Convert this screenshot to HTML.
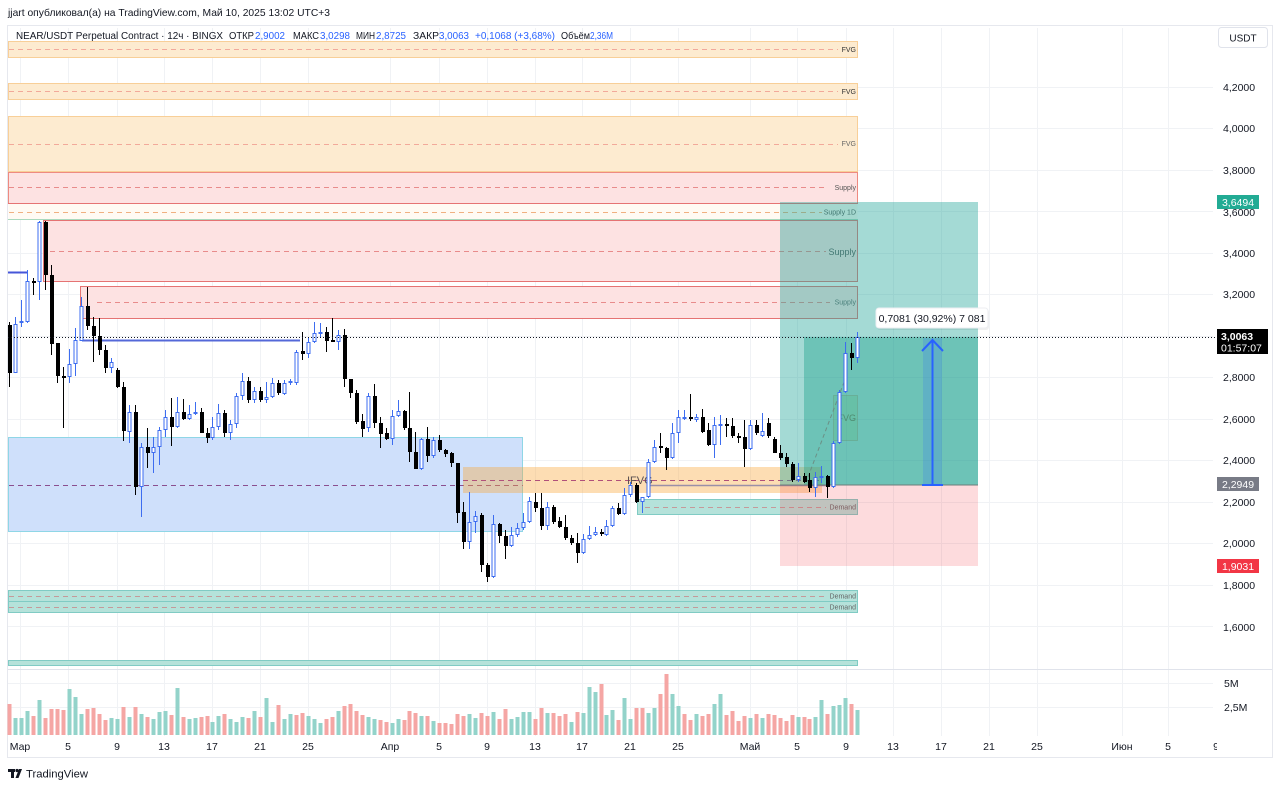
<!DOCTYPE html>
<html><head><meta charset="utf-8"><style>
html,body{margin:0;padding:0;background:#fff;}
svg{display:block;}
text{font-family:"Liberation Sans","DejaVu Sans",sans-serif;}
</style></head><body>
<svg width="1280" height="788" viewBox="0 0 1280 788" xmlns="http://www.w3.org/2000/svg">
<rect width="1280" height="788" fill="#fff"/>
<!-- frame -->
<rect x="7.5" y="25.5" width="1265" height="732" fill="none" stroke="#e6e8ee"/>
<!-- grid -->
<g stroke="#f0f2f5" stroke-width="1">
<path d="M8 87.5H1213M8 128.5H1213M8 170.5H1213M8 211.5H1213M8 253.5H1213M8 294.5H1213M8 336.5H1213M8 377.5H1213M8 419.5H1213M8 460.5H1213M8 502.5H1213M8 543.5H1213M8 585.5H1213M8 626.5H1213M8 683.5H1213M8 707.5H1213"/>
<path d="M20.5 28V736M68.5 28V736M117.5 28V736M164.5 28V736M212.5 28V736M260.5 28V736M308.5 28V736M390.5 28V736M439.5 28V736M487.5 28V736M535.5 28V736M582.5 28V736M630.5 28V736M678.5 28V736M750.5 28V736M797.5 28V736M846.5 28V736M893.5 28V736M941.5 28V736M989.5 28V736M1037.5 28V736M1122.5 28V736M1168.5 28V736"/>
</g>
<line x1="8" y1="669.5" x2="1272" y2="669.5" stroke="#e0e3eb"/>

<!-- FVG zones -->
<g stroke="#f8cf98" stroke-width="1">
<rect x="8.5" y="41.5" width="849" height="16" fill="#fdebd0"/>
<rect x="8.5" y="83.5" width="849" height="16" fill="#fdebd0"/>
<rect x="8.5" y="116.5" width="849" height="55" fill="#fdebd0"/>
</g>
<!-- Supply zones -->
<rect x="8.5" y="172.5" width="849" height="31" fill="#fde2e2" stroke="#ee8a80"/>
<rect x="8.5" y="203.5" width="849" height="16" fill="#fffaf3" stroke="none"/>
<line x1="8" y1="203.5" x2="858" y2="203.5" stroke="#e57373"/>
<line x1="8" y1="219.5" x2="858" y2="219.5" stroke="#a9d9bd"/>
<rect x="43.5" y="220.5" width="814" height="61" fill="#fde2e2" stroke="#e57373"/>
<rect x="80.5" y="286.5" width="777" height="32" fill="#fde2e2" stroke="#e57373"/>
<g stroke-dasharray="5 4" stroke-width="1" fill="none">
<path d="M9 49.5H838M9 91.5H838M9 144.5H838" stroke="#f2a99a"/>
<path d="M9 187.5H828" stroke="#e88b8b"/>
<path d="M9 212.5H822" stroke="#f0b080"/>
<path d="M50 251.5H826M97 302.5H830" stroke="#e88b8b"/>
</g>

<!-- Blue zone -->
<rect x="8.5" y="437.5" width="514" height="94" fill="#cfe0fb" stroke="#8fd6e6"/>
<path d="M9 485.5H523" stroke="#8b4f8f" stroke-dasharray="5 4"/>
<!-- IFVG orange -->
<rect x="463" y="467" width="359" height="26" fill="rgba(251,165,55,0.38)"/>
<path d="M463 480.5H820" stroke="#b0507a" stroke-dasharray="5 4"/>
<path d="M648 485.5H830" stroke="#9b8fa8" stroke-width="1.5"/>
<!-- Demand zones -->
<g fill="#b5e2da" stroke="#80cbc4">
<rect x="637.5" y="499.5" width="220" height="15"/>
<rect x="8.5" y="590.5" width="849" height="11"/>
<rect x="8.5" y="601.5" width="849" height="11"/>
<rect x="8.5" y="660.5" width="849" height="5"/>
</g>
<g stroke="#c49a9a" stroke-dasharray="5 4">
<path d="M645 507.5H826M9 596.5H826M9 607.5H826"/>
</g>

<!-- blue horizontal lines -->
<path d="M8 272.5H27" stroke="#4656d8" stroke-width="2"/>
<path d="M82 340.5H300" stroke="#5468d8" stroke-width="2"/>

<!-- zone labels -->
<g font-size="7" fill="#333" text-anchor="end">
<text x="856" y="52">FVG</text>
<text x="856" y="94">FVG</text>
<text x="856" y="146" fill="#666">FVG</text>
<text x="856" y="190" fill="#555">Supply</text>
<text x="856" y="214.5" fill="#555">Supply 1D</text>
<text x="856" y="255" font-size="9" fill="#555">Supply</text>
<text x="856" y="304.5" fill="#666">Supply</text>
<text x="856" y="509.5" fill="#666">Demand</text>
<text x="856" y="598.5" fill="#666">Demand</text>
<text x="856" y="609.5" fill="#666">Demand</text>
</g>

<!-- Long position -->
<rect x="780" y="202" width="198" height="283" fill="rgba(38,166,154,0.42)"/>
<rect x="804" y="337" width="174" height="148" fill="rgba(8,153,129,0.35)"/>
<rect x="780" y="485" width="198" height="81" fill="rgba(242,54,69,0.18)"/>
<line x1="780" y1="485" x2="978" y2="485" stroke="#6c7e7a"/>
<rect x="833.5" y="395.5" width="24" height="45" fill="rgba(76,175,80,0.15)" stroke="rgba(100,140,110,0.35)"/>
<text x="856" y="421" font-size="9" fill="#4f8a70" text-anchor="end">FVG</text>
<path d="M808 477L846 377" stroke="#6b8f85" stroke-dasharray="4 3" fill="none"/>
<rect x="923" y="338" width="19" height="147" fill="rgba(41,98,255,0.18)"/>
<g stroke="#2962ff" stroke-width="2" fill="none">
<path d="M932.5 484V340"/>
<path d="M922 351L932.5 340L943 351"/>
<path d="M922 485H943"/>
</g>
<text x="627" y="484" font-size="11" fill="#5a5050">IFVG</text>

<!-- candles -->
<g shape-rendering="crispEdges">
<path stroke="#000" stroke-width="1" fill="none" d="M9.5 322V387M33.5 278V295M45.5 221V290M51.5 265V355M57.5 343V383M63.5 367V428M87.5 287V330M93.5 317V362M99.5 318V355M105.5 345V373M117.5 368V388M123.5 382V441M135.5 405V495M147.5 428V468M171.5 398V446M183.5 399V420M201.5 408V433M207.5 428V443M224.5 410V437M248.5 377V403M260.5 387V402M278.5 380V395M302.5 332V360M326.5 327V352M332.5 318V342M344.5 329V387M350.5 379V398M356.5 390V424M362.5 414V437M374.5 384V428M380.5 417V448M386.5 428V440M404.5 410V430M409.5 392V462M415.5 432V469M427.5 427V462M439.5 435V452M445.5 449V457M451.5 452V467M457.5 463V523M463.5 502V549M481.5 513V572M487.5 563V582M499.5 523V543M505.5 530V559M535.5 493V512M541.5 493V530M553.5 505V524M559.5 517V528M565.5 515V540M571.5 535V545M577.5 533V563M601.5 529V536M618.5 503V515M636.5 483V503M660.5 433V453M666.5 447V470M690.5 394V421M702.5 409V433M708.5 423V446M726.5 418V437M732.5 418V438M738.5 433V443M744.5 420V467M756.5 420V435M768.5 418V438M774.5 437V453M780.5 445V460M786.5 453V467M792.5 462V482M804.5 473V483M809.5 473V492M827.5 475V498M851.5 343V370"/>
<path stroke="#3d6df0" stroke-width="1" fill="none" d="M15.5 317V373M21.5 300V327M27.5 270V323M39.5 221V300M69.5 349V383M75.5 328V376M81.5 297V341M111.5 358V373M129.5 405V443M141.5 443V517M153.5 437V473M159.5 427V465M165.5 410V437M177.5 397V428M189.5 405V420M195.5 402V415M212.5 417V440M218.5 404V430M230.5 420V440M236.5 393V428M242.5 373V400M254.5 387V403M266.5 382V403M272.5 378V398M284.5 380V395M290.5 379V385M296.5 350V385M308.5 338V358M314.5 322V343M320.5 323V337M338.5 330V350M368.5 393V432M392.5 410V445M398.5 400V417M421.5 438V470M433.5 437V458M469.5 492V549M475.5 511V533M493.5 515V578M511.5 527V547M517.5 523V537M523.5 513V530M529.5 497V523M547.5 502V530M583.5 534V554M589.5 526V540M595.5 527V536M606.5 520V536M612.5 506V527M624.5 488V515M630.5 482V497M642.5 497V513M648.5 459V498M654.5 440V463M672.5 423V459M678.5 410V443M684.5 410V420M696.5 414V422M714.5 417V458M720.5 415V445M750.5 420V450M762.5 413V437M798.5 463V482M815.5 472V497M821.5 466V483M833.5 441V488M839.5 390V444M845.5 342V393M857.5 332V363"/>
<g fill="#000">
<rect x="8" y="325" width="4" height="48"/><rect x="32" y="281" width="4" height="2"/><rect x="44" y="222" width="4" height="53"/><rect x="50" y="275" width="4" height="69"/><rect x="56" y="343" width="4" height="33"/><rect x="62" y="376" width="4" height="2"/><rect x="86" y="306" width="4" height="20"/><rect x="92" y="326" width="4" height="10"/><rect x="98" y="336" width="4" height="14"/><rect x="104" y="350" width="4" height="18"/><rect x="116" y="370" width="4" height="17"/><rect x="122" y="387" width="4" height="44"/><rect x="134" y="412" width="4" height="75"/><rect x="146" y="447" width="4" height="6"/><rect x="170" y="417" width="4" height="10"/><rect x="182" y="412" width="4" height="7"/><rect x="200" y="412" width="4" height="21"/><rect x="206" y="433" width="4" height="5"/><rect x="223" y="413" width="4" height="20"/><rect x="247" y="381" width="4" height="19"/><rect x="259" y="391" width="4" height="9"/><rect x="277" y="383" width="4" height="10"/><rect x="301" y="351" width="4" height="3"/><rect x="325" y="332" width="4" height="9"/><rect x="331" y="340" width="4" height="2"/><rect x="343" y="335" width="4" height="44"/><rect x="349" y="379" width="4" height="14"/><rect x="355" y="393" width="4" height="29"/><rect x="361" y="421" width="4" height="8"/><rect x="373" y="396" width="4" height="27"/><rect x="379" y="423" width="4" height="11"/><rect x="385" y="433" width="4" height="6"/><rect x="403" y="411" width="4" height="17"/><rect x="408" y="428" width="4" height="24"/><rect x="414" y="452" width="4" height="17"/><rect x="426" y="439" width="4" height="17"/><rect x="438" y="440" width="4" height="10"/><rect x="444" y="450" width="4" height="4"/><rect x="450" y="453" width="4" height="10"/><rect x="456" y="463" width="4" height="50"/><rect x="462" y="512" width="4" height="30"/><rect x="480" y="515" width="4" height="50"/><rect x="486" y="565" width="4" height="12"/><rect x="498" y="524" width="4" height="12"/><rect x="504" y="536" width="4" height="10"/><rect x="534" y="502" width="4" height="6"/><rect x="540" y="508" width="4" height="18"/><rect x="552" y="507" width="4" height="15"/><rect x="558" y="521" width="4" height="6"/><rect x="564" y="527" width="4" height="11"/><rect x="570" y="538" width="4" height="5"/><rect x="576" y="543" width="4" height="10"/><rect x="600" y="532" width="4" height="2"/><rect x="617" y="508" width="4" height="6"/><rect x="635" y="485" width="4" height="17"/><rect x="659" y="446" width="4" height="2"/><rect x="665" y="448" width="4" height="10"/><rect x="689" y="417" width="4" height="2"/><rect x="701" y="417" width="4" height="15"/><rect x="707" y="430" width="4" height="15"/><rect x="725" y="424" width="4" height="2"/><rect x="731" y="426" width="4" height="10"/><rect x="737" y="436" width="4" height="2"/><rect x="743" y="437" width="4" height="12"/><rect x="755" y="425" width="4" height="8"/><rect x="767" y="423" width="4" height="13"/><rect x="773" y="439" width="4" height="14"/><rect x="779" y="453" width="4" height="5"/><rect x="785" y="457" width="4" height="7"/><rect x="791" y="464" width="4" height="16"/><rect x="803" y="476" width="4" height="6"/><rect x="808" y="480" width="4" height="8"/><rect x="826" y="476" width="4" height="11"/><rect x="850" y="353" width="4" height="5"/>
</g>
<g fill="#fff" stroke="#3d6df0" stroke-width="1">
<rect x="14" y="324.5" width="3" height="48"/><rect x="20" y="321.5" width="3" height="1"/><rect x="26" y="281.5" width="3" height="40"/><rect x="38" y="222.5" width="3" height="59"/><rect x="68" y="364.5" width="3" height="12"/><rect x="74" y="340.5" width="3" height="23"/><rect x="80" y="306.5" width="3" height="34"/><rect x="110" y="362.5" width="3" height="5"/><rect x="128" y="412.5" width="3" height="19"/><rect x="140" y="447.5" width="3" height="39"/><rect x="152" y="447.5" width="3" height="5"/><rect x="158" y="430.5" width="3" height="16"/><rect x="164" y="417.5" width="3" height="12"/><rect x="176" y="412.5" width="3" height="14"/><rect x="188" y="414.5" width="3" height="4"/><rect x="194" y="412.5" width="3" height="1"/><rect x="211" y="427.5" width="3" height="10"/><rect x="217" y="413.5" width="3" height="13"/><rect x="229" y="424.5" width="3" height="8"/><rect x="235" y="396.5" width="3" height="27"/><rect x="241" y="381.5" width="3" height="14"/><rect x="253" y="391.5" width="3" height="8"/><rect x="265" y="397.5" width="3" height="2"/><rect x="271" y="383.5" width="3" height="13"/><rect x="283" y="383.5" width="3" height="10"/><rect x="289" y="381.5" width="3" height="1"/><rect x="295" y="352.5" width="3" height="30"/><rect x="307" y="342.5" width="3" height="11"/><rect x="313" y="333.5" width="3" height="8"/><rect x="319" y="332.5" width="3" height="1"/><rect x="337" y="335.5" width="3" height="6"/><rect x="367" y="396.5" width="3" height="31"/><rect x="391" y="416.5" width="3" height="22"/><rect x="397" y="411.5" width="3" height="4"/><rect x="420" y="439.5" width="3" height="29"/><rect x="432" y="440.5" width="3" height="15"/><rect x="468" y="522.5" width="3" height="19"/><rect x="474" y="516.5" width="3" height="5"/><rect x="492" y="524.5" width="3" height="52"/><rect x="510" y="535.5" width="3" height="10"/><rect x="516" y="528.5" width="3" height="6"/><rect x="522" y="522.5" width="3" height="5"/><rect x="528" y="501.5" width="3" height="20"/><rect x="546" y="507.5" width="3" height="18"/><rect x="582" y="539.5" width="3" height="13"/><rect x="588" y="535.5" width="3" height="3"/><rect x="594" y="532.5" width="3" height="2"/><rect x="605" y="526.5" width="3" height="8"/><rect x="611" y="508.5" width="3" height="17"/><rect x="623" y="495.5" width="3" height="18"/><rect x="629" y="485.5" width="3" height="9"/><rect x="641" y="497.5" width="3" height="4"/><rect x="647" y="462.5" width="3" height="34"/><rect x="653" y="447.5" width="3" height="14"/><rect x="671" y="433.5" width="3" height="24"/><rect x="677" y="417.5" width="3" height="15"/><rect x="683" y="417.5" width="3" height="1"/><rect x="695" y="417.5" width="3" height="2"/><rect x="713" y="425.5" width="3" height="19"/><rect x="719" y="424.5" width="3" height="1"/><rect x="749" y="425.5" width="3" height="23"/><rect x="761" y="431.5" width="3" height="4"/><rect x="797" y="476.5" width="3" height="3"/><rect x="814" y="477.5" width="3" height="10"/><rect x="820" y="476.5" width="3" height="1"/><rect x="832" y="443.5" width="3" height="43"/><rect x="838" y="392.5" width="3" height="50"/><rect x="844" y="353.5" width="3" height="38"/><rect x="856" y="337.5" width="3" height="20"/>
</g>
</g>

<!-- current price dotted line -->
<path d="M8 337.5H1215" stroke="#131722" stroke-dasharray="1 2" stroke-width="1"/>

<!-- position label -->
<rect x="877" y="309" width="112" height="21" rx="3" fill="#000" opacity="0.06"/>
<rect x="876" y="308" width="112" height="20" rx="3" fill="#fff" stroke="#eceef2"/>
<text x="932" y="322" font-size="10.5" fill="#131722" text-anchor="middle">0,7081 (30,92%) 7 081</text>

<!-- volume -->
<g fill="#93d3ca" shape-rendering="crispEdges">
<rect x="13.5" y="718" width="4" height="17"/><rect x="19.5" y="718" width="4" height="17"/><rect x="25.5" y="711" width="4" height="24"/><rect x="37.5" y="700" width="4" height="35"/><rect x="67.5" y="689" width="4" height="46"/><rect x="73.5" y="697" width="4" height="38"/><rect x="79.5" y="714" width="4" height="21"/><rect x="109.5" y="718" width="4" height="17"/><rect x="115.5" y="719" width="4" height="16"/><rect x="127.5" y="717" width="4" height="18"/><rect x="139.5" y="714" width="4" height="21"/><rect x="151.5" y="719" width="4" height="16"/><rect x="157.5" y="712" width="4" height="23"/><rect x="163.5" y="711" width="4" height="24"/><rect x="175.5" y="688" width="4" height="47"/><rect x="187.5" y="719" width="4" height="16"/><rect x="193.5" y="718" width="4" height="17"/><rect x="210.5" y="722" width="4" height="13"/><rect x="216.5" y="716" width="4" height="19"/><rect x="228.5" y="719" width="4" height="16"/><rect x="234.5" y="722" width="4" height="13"/><rect x="240.5" y="717" width="4" height="18"/><rect x="252.5" y="711" width="4" height="24"/><rect x="264.5" y="698" width="4" height="37"/><rect x="270.5" y="722" width="4" height="13"/><rect x="282.5" y="719" width="4" height="16"/><rect x="288.5" y="714" width="4" height="21"/><rect x="306.5" y="716" width="4" height="19"/><rect x="312.5" y="719" width="4" height="16"/><rect x="318.5" y="723" width="4" height="12"/><rect x="336.5" y="711" width="4" height="24"/><rect x="366.5" y="717" width="4" height="18"/><rect x="372.5" y="719" width="4" height="16"/><rect x="390.5" y="723" width="4" height="12"/><rect x="396.5" y="719" width="4" height="16"/><rect x="419.5" y="716" width="4" height="19"/><rect x="431.5" y="721" width="4" height="14"/><rect x="467.5" y="714" width="4" height="21"/><rect x="473.5" y="718" width="4" height="17"/><rect x="491.5" y="712" width="4" height="23"/><rect x="509.5" y="719" width="4" height="16"/><rect x="515.5" y="717" width="4" height="18"/><rect x="521.5" y="712" width="4" height="23"/><rect x="527.5" y="712" width="4" height="23"/><rect x="545.5" y="713" width="4" height="22"/><rect x="569.5" y="722" width="4" height="13"/><rect x="581.5" y="713" width="4" height="22"/><rect x="587.5" y="687" width="4" height="48"/><rect x="593.5" y="692" width="4" height="43"/><rect x="604.5" y="715" width="4" height="20"/><rect x="610.5" y="710" width="4" height="25"/><rect x="622.5" y="698" width="4" height="37"/><rect x="628.5" y="719" width="4" height="16"/><rect x="646.5" y="713" width="4" height="22"/><rect x="652.5" y="708" width="4" height="27"/><rect x="670.5" y="694" width="4" height="41"/><rect x="676.5" y="706" width="4" height="29"/><rect x="694.5" y="714" width="4" height="21"/><rect x="712.5" y="704" width="4" height="31"/><rect x="718.5" y="694" width="4" height="41"/><rect x="748.5" y="718" width="4" height="17"/><rect x="760.5" y="718" width="4" height="17"/><rect x="796.5" y="717" width="4" height="18"/><rect x="813.5" y="717" width="4" height="18"/><rect x="819.5" y="700" width="4" height="35"/><rect x="831.5" y="706" width="4" height="29"/><rect x="837.5" y="705" width="4" height="30"/><rect x="843.5" y="698" width="4" height="37"/><rect x="855.5" y="710" width="4" height="25"/>
</g>
<g fill="#f5a6a4" shape-rendering="crispEdges">
<rect x="7.5" y="704" width="4" height="31"/><rect x="31.5" y="716" width="4" height="19"/><rect x="43.5" y="718" width="4" height="17"/><rect x="49.5" y="709" width="4" height="26"/><rect x="55.5" y="709" width="4" height="26"/><rect x="61.5" y="710" width="4" height="25"/><rect x="85.5" y="709" width="4" height="26"/><rect x="91.5" y="708" width="4" height="27"/><rect x="97.5" y="714" width="4" height="21"/><rect x="103.5" y="720" width="4" height="15"/><rect x="121.5" y="707" width="4" height="28"/><rect x="133.5" y="707" width="4" height="28"/><rect x="145.5" y="717" width="4" height="18"/><rect x="169.5" y="715" width="4" height="20"/><rect x="181.5" y="717" width="4" height="18"/><rect x="199.5" y="717" width="4" height="18"/><rect x="205.5" y="716" width="4" height="19"/><rect x="222.5" y="714" width="4" height="21"/><rect x="246.5" y="718" width="4" height="17"/><rect x="258.5" y="717" width="4" height="18"/><rect x="276.5" y="705" width="4" height="30"/><rect x="294.5" y="715" width="4" height="20"/><rect x="300.5" y="713" width="4" height="22"/><rect x="324.5" y="719" width="4" height="16"/><rect x="330.5" y="717" width="4" height="18"/><rect x="342.5" y="706" width="4" height="29"/><rect x="348.5" y="704" width="4" height="31"/><rect x="354.5" y="711" width="4" height="24"/><rect x="360.5" y="715" width="4" height="20"/><rect x="378.5" y="720" width="4" height="15"/><rect x="384.5" y="722" width="4" height="13"/><rect x="402.5" y="720" width="4" height="15"/><rect x="407.5" y="711" width="4" height="24"/><rect x="413.5" y="713" width="4" height="22"/><rect x="425.5" y="716" width="4" height="19"/><rect x="437.5" y="723" width="4" height="12"/><rect x="443.5" y="723" width="4" height="12"/><rect x="449.5" y="724" width="4" height="11"/><rect x="455.5" y="714" width="4" height="21"/><rect x="461.5" y="716" width="4" height="19"/><rect x="479.5" y="713" width="4" height="22"/><rect x="485.5" y="716" width="4" height="19"/><rect x="497.5" y="719" width="4" height="16"/><rect x="503.5" y="709" width="4" height="26"/><rect x="533.5" y="719" width="4" height="16"/><rect x="539.5" y="708" width="4" height="27"/><rect x="551.5" y="713" width="4" height="22"/><rect x="557.5" y="716" width="4" height="19"/><rect x="563.5" y="714" width="4" height="21"/><rect x="575.5" y="712" width="4" height="23"/><rect x="599.5" y="684" width="4" height="51"/><rect x="616.5" y="720" width="4" height="15"/><rect x="634.5" y="708" width="4" height="27"/><rect x="640.5" y="708" width="4" height="27"/><rect x="658.5" y="694" width="4" height="41"/><rect x="664.5" y="674" width="4" height="61"/><rect x="682.5" y="714" width="4" height="21"/><rect x="688.5" y="720" width="4" height="15"/><rect x="700.5" y="716" width="4" height="19"/><rect x="706.5" y="714" width="4" height="21"/><rect x="724.5" y="715" width="4" height="20"/><rect x="730.5" y="711" width="4" height="24"/><rect x="736.5" y="721" width="4" height="14"/><rect x="742.5" y="716" width="4" height="19"/><rect x="754.5" y="714" width="4" height="21"/><rect x="766.5" y="714" width="4" height="21"/><rect x="772.5" y="715" width="4" height="20"/><rect x="778.5" y="718" width="4" height="17"/><rect x="784.5" y="721" width="4" height="14"/><rect x="790.5" y="715" width="4" height="20"/><rect x="802.5" y="717" width="4" height="18"/><rect x="807.5" y="719" width="4" height="16"/><rect x="825.5" y="714" width="4" height="21"/><rect x="849.5" y="704" width="4" height="31"/>
</g>

<!-- price axis -->
<rect x="1218.5" y="27.5" width="49" height="20" rx="3" fill="#fff" stroke="#e0e3eb"/>
<text x="1243" y="41.5" font-size="10" fill="#131722" text-anchor="middle">USDT</text>
<g font-size="10.5" fill="#131722">
<text x="1223" y="91">4,2000</text>
<text x="1223" y="132">4,0000</text>
<text x="1223" y="174">3,8000</text>
<text x="1223" y="216">3,6000</text>
<text x="1223" y="257">3,4000</text>
<text x="1223" y="298">3,2000</text>
<text x="1223" y="381">2,8000</text>
<text x="1223" y="423">2,6000</text>
<text x="1223" y="464">2,4000</text>
<text x="1223" y="506">2,2000</text>
<text x="1223" y="547">2,0000</text>
<text x="1223" y="589">1,8000</text>
<text x="1223" y="631">1,6000</text>
<text x="1224" y="687">5M</text>
<text x="1224" y="711">2,5M</text>
</g>
<rect x="1217" y="195" width="42" height="14" fill="#22ab94"/>
<text x="1238" y="206" font-size="10.5" fill="#fff" text-anchor="middle">3,6494</text>
<rect x="1217" y="329" width="51" height="25" fill="#000"/>
<text x="1221" y="340" font-size="10.5" fill="#fff" font-weight="bold">3,0063</text>
<text x="1221" y="351.5" font-size="10.5" fill="#fff">01:57:07</text>
<rect x="1217" y="477" width="42" height="14" fill="#787b86"/>
<text x="1238" y="488" font-size="10.5" fill="#fff" text-anchor="middle">2,2949</text>
<rect x="1217" y="559" width="42" height="14" fill="#f23645"/>
<text x="1238" y="570" font-size="10.5" fill="#fff" text-anchor="middle">1,9031</text>

<!-- time axis -->
<g font-size="10.5" fill="#131722" text-anchor="middle">
<text x="20" y="750">Мар</text><text x="68" y="750">5</text><text x="117" y="750">9</text><text x="164" y="750">13</text><text x="212" y="750">17</text><text x="260" y="750">21</text><text x="308" y="750">25</text>
<text x="390" y="750">Апр</text><text x="439" y="750">5</text><text x="487" y="750">9</text><text x="535" y="750">13</text><text x="582" y="750">17</text><text x="630" y="750">21</text><text x="678" y="750">25</text>
<text x="750" y="750">Май</text><text x="797" y="750">5</text><text x="846" y="750">9</text><text x="893" y="750">13</text><text x="941" y="750">17</text><text x="989" y="750">21</text><text x="1037" y="750">25</text>
<text x="1122" y="750">Июн</text><text x="1168" y="750">5</text>
</g>
<clipPath id="c9"><rect x="1200" y="738" width="17" height="16"/></clipPath>
<text x="1216" y="750" font-size="10.5" fill="#131722" text-anchor="middle" clip-path="url(#c9)">9</text>

<!-- header -->
<text x="8" y="16" font-size="10.5" fill="#131722" textLength="322" lengthAdjust="spacingAndGlyphs">jjart опубликовал(а) на TradingView.com, Май 10, 2025 13:02 UTC+3</text>
<g font-size="10" fill="#131722">
<text x="16" y="39" textLength="207" lengthAdjust="spacingAndGlyphs">NEAR/USDT Perpetual Contract · 12ч · BINGX</text>
<text x="229" y="39" textLength="25" lengthAdjust="spacingAndGlyphs">ОТКР</text>
<text x="255" y="39" fill="#2962ff" textLength="30" lengthAdjust="spacingAndGlyphs">2,9002</text>
<text x="293" y="39" textLength="26" lengthAdjust="spacingAndGlyphs">МАКС</text>
<text x="320" y="39" fill="#2962ff" textLength="30" lengthAdjust="spacingAndGlyphs">3,0298</text>
<text x="356" y="39" textLength="19" lengthAdjust="spacingAndGlyphs">МИН</text>
<text x="376" y="39" fill="#2962ff" textLength="30" lengthAdjust="spacingAndGlyphs">2,8725</text>
<text x="413" y="39" textLength="26" lengthAdjust="spacingAndGlyphs">ЗАКР</text>
<text x="439" y="39" fill="#2962ff" textLength="30" lengthAdjust="spacingAndGlyphs">3,0063</text>
<text x="475" y="39" fill="#2962ff" textLength="80" lengthAdjust="spacingAndGlyphs">+0,1068 (+3,68%)</text>
<text x="561" y="39" textLength="29" lengthAdjust="spacingAndGlyphs">Объём</text>
<text x="590" y="39" fill="#2962ff" textLength="23" lengthAdjust="spacingAndGlyphs">2,36M</text>
</g>

<!-- footer -->
<g fill="#131722">
<rect x="8" y="769" width="7" height="3"/>
<rect x="11" y="769" width="3" height="9"/>
<circle cx="17" cy="770.5" r="1.6"/>
<path d="M15.5 778L19 769H22L18.5 778Z"/>
</g>
<text x="26" y="777.5" font-size="11" fill="#131722" textLength="62" lengthAdjust="spacingAndGlyphs">TradingView</text>
</svg>
</body></html>
